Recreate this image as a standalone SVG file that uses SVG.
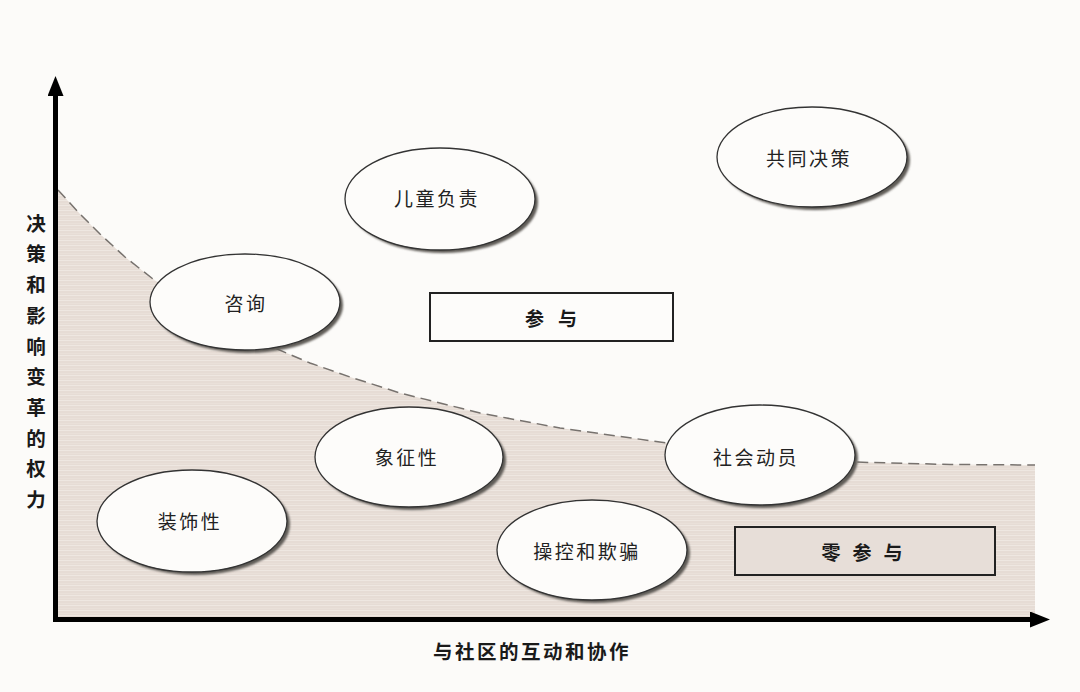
<svg xmlns="http://www.w3.org/2000/svg" width="1080" height="692" viewBox="0 0 1080 692">
  <defs>
    <style>
      .lbl { font-family: "Noto Sans CJK SC", "Noto Sans", sans-serif; font-size: 19px; fill: #222; text-anchor: middle; dominant-baseline: central; letter-spacing: 2.5px; }
      .box-lbl { font-family: "Noto Sans CJK SC", "Noto Sans", sans-serif; font-size: 19px; font-weight: bold; fill: #1a1a1a; text-anchor: middle; dominant-baseline: central; }
      .axis-lbl { font-family: "Noto Sans CJK SC", "Noto Sans", sans-serif; font-size: 19.5px; font-weight: bold; fill: #1a1a1a; text-anchor: middle; dominant-baseline: central; }
      .oval { fill: #fdfcfa; stroke: #333; stroke-width: 1.3; }
      .shadow { fill: #5f5b57; filter: url(#blur); }
      .axis { stroke: #000; stroke-width: 5; fill: none; }
      .box { stroke: #222; stroke-width: 2; }
    </style>
    <filter id="blur" x="-10%" y="-10%" width="120%" height="120%">
      <feGaussianBlur stdDeviation="1.2"/>
    </filter>
    <pattern id="stripes" width="8" height="5" patternUnits="userSpaceOnUse">
      <rect width="8" height="5" fill="#e6dcd5"/>
      <rect y="0" width="8" height="1" fill="#eee7e1"/>
      <rect y="3" width="8" height="0.6" fill="#ebe3dd"/>
    </pattern>
    <marker id="arrow" viewBox="0 0 20 16" refX="2" refY="8" markerWidth="20" markerHeight="16" markerUnits="userSpaceOnUse" orient="auto">
      <path d="M0,0 L20,8 L0,16 Z" fill="#000"/>
    </marker>
  </defs>

  <rect width="1080" height="692" fill="#fcfbf9"/>

  <g id="zero-zone">
    <path d="M58,190 L80,214 L100,234 L125,257 L153,279 L190,304 L230,327 L270,346 L310,363 L350,377 L400,393 L480,413 L560,428 L667,443 L760,454 L853,462 L950,464.5 L1035,465 L1035,617 L58,617 Z" fill="url(#stripes)"/>
  </g>

  <g id="connectors">
    <path d="M58,190 L80,214 L100,234 L125,257 L153,279 L190,304 L230,327 L270,346 L310,363 L350,377 L400,393 L480,413 L560,428 L667,443 L760,454 L853,462 L950,464.5 L1035,465" fill="none" stroke="#77726e" stroke-width="1.5" stroke-dasharray="11 6"/>
    <line class="axis" x1="55.5" y1="622" x2="55.5" y2="94" marker-end="url(#arrow)"/>
    <line class="axis" x1="53" y1="619.5" x2="1032" y2="619.5" marker-end="url(#arrow)"/>
  </g>

  <g id="y-axis-label">
    <text class="axis-lbl" x="36" y="222">决</text>
    <text class="axis-lbl" x="36" y="252.5">策</text>
    <text class="axis-lbl" x="36" y="283">和</text>
    <text class="axis-lbl" x="36" y="314">影</text>
    <text class="axis-lbl" x="36" y="345">响</text>
    <text class="axis-lbl" x="36" y="375.5">变</text>
    <text class="axis-lbl" x="36" y="406">革</text>
    <text class="axis-lbl" x="36" y="437">的</text>
    <text class="axis-lbl" x="36" y="467.5">权</text>
    <text class="axis-lbl" x="36" y="498">力</text>
  </g>

  <g id="x-axis-label">
    <text class="axis-lbl" x="532" y="650" style="letter-spacing:2.5px">与社区的互动和协作</text>
  </g>

  <g id="node-gongtong">
    <ellipse class="shadow" cx="815" cy="160" rx="95" ry="50"/>
    <ellipse class="oval" cx="812" cy="157" rx="95" ry="50"/>
    <text class="lbl" x="809" y="157">共同决策</text>
  </g>

  <g id="node-ertong">
    <ellipse class="shadow" cx="443" cy="202" rx="95" ry="51"/>
    <ellipse class="oval" cx="440" cy="199" rx="95" ry="51"/>
    <text class="lbl" x="437" y="197">儿童负责</text>
  </g>

  <g id="node-zixun">
    <ellipse class="shadow" cx="248" cy="305" rx="95" ry="48"/>
    <ellipse class="oval" cx="245" cy="302" rx="95" ry="48"/>
    <text class="lbl" x="246" y="302">咨询</text>
  </g>

  <g id="node-canyu">
    <rect class="box" x="430" y="293" width="243" height="48" fill="#fdfcfa"/>
    <text class="box-lbl" x="558" y="317" style="letter-spacing:14px">参与</text>
  </g>

  <g id="node-xiangzheng">
    <ellipse class="shadow" cx="412" cy="460" rx="94" ry="50"/>
    <ellipse class="oval" cx="409" cy="457" rx="94" ry="50"/>
    <text class="lbl" x="407" y="456">象征性</text>
  </g>

  <g id="node-shehui">
    <ellipse class="shadow" cx="763" cy="458" rx="95" ry="50"/>
    <ellipse class="oval" cx="760" cy="455" rx="95" ry="50"/>
    <text class="lbl" x="756" y="456">社会动员</text>
  </g>

  <g id="node-zhuangshi">
    <ellipse class="shadow" cx="195" cy="524" rx="95" ry="51"/>
    <ellipse class="oval" cx="192" cy="521" rx="95" ry="51"/>
    <text class="lbl" x="190" y="520">装饰性</text>
  </g>

  <g id="node-caokong">
    <ellipse class="shadow" cx="595" cy="553" rx="95" ry="50"/>
    <ellipse class="oval" cx="592" cy="550" rx="95" ry="50"/>
    <text class="lbl" x="587" y="550">操控和欺骗</text>
  </g>

  <g id="node-lingcanyu">
    <rect class="box" x="735" y="527" width="260" height="48" fill="#e7ded8"/>
    <text class="box-lbl" x="868" y="551" style="letter-spacing:12px">零参与</text>
  </g>
</svg>
